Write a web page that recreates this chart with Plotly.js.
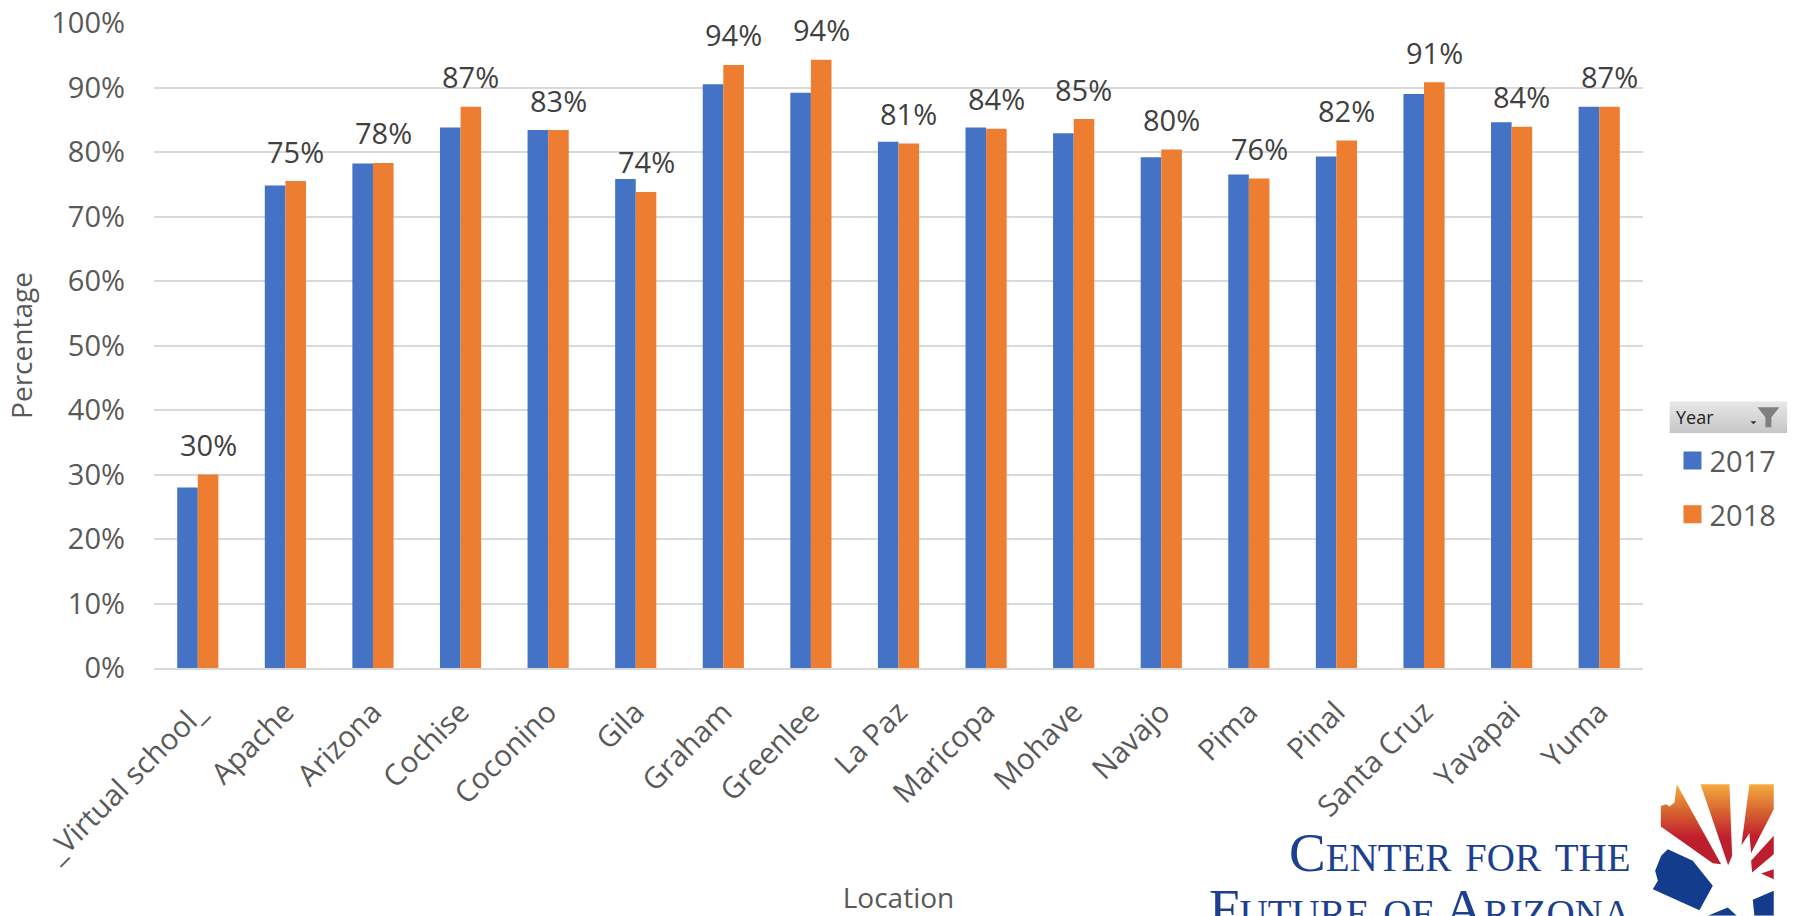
<!DOCTYPE html>
<html>
<head>
<meta charset="utf-8">
<script src="https://cdn.plot.ly/plotly-3.0.1.min.js"></script>
<style>
html,body{margin:0;padding:0;background:#fff;overflow:hidden}
#chart{width:1794px;height:916px}
.legendpoints path{transform:translate(23px,0) scale(1.5)}
.xtitle{translate:0 5px}
</style>
</head>
<body>
<div id="chart"></div>
<script>
const locations = ["_Virtual school_","Apache","Arizona","Cochise","Coconino","Gila","Graham","Greenlee","La Paz","Maricopa","Mohave","Navajo","Pima","Pinal","Santa Cruz","Yavapai","Yuma"];
const values2017 = [28,74.8,78.2,83.8,83.4,75.8,90.5,89.2,81.6,83.8,82.9,79.2,76.5,79.3,89,84.6,87];
const values2018 = [30,75.5,78.3,87,83.4,73.8,93.5,94.3,81.3,83.6,85.1,80.4,75.9,81.8,90.8,83.9,87];
const dataLabels = ["30%","75%","78%","87%","83%","74%","94%","94%","81%","84%","85%","80%","76%","82%","91%","84%","87%"];

const W=1794,H=916,L=153.5,R=1643.5,T=22.5,B=668;
const px=x=>(x-L)/(R-L), py=y=>(B-y)/(B-T);
const FONT='"Open Sans", sans-serif', GREY='#595959';

const logoSvg=`<svg xmlns="http://www.w3.org/2000/svg" viewBox="0 0 390 420" width="390" height="420" preserveAspectRatio="none"><defs><linearGradient id="g" gradientUnits="userSpaceOnUse" x1="0" y1="25" x2="0" y2="200"><stop offset="0" stop-color="#f5ab40"/><stop offset="0.45" stop-color="#d8662f"/><stop offset="0.9" stop-color="#c0202e"/><stop offset="1" stop-color="#bb1e2d"/></linearGradient></defs><g fill="url(#g)"><path d="M82 25L215 265L190 262L34 152L34 90L50 85L60 92L75 80Z"/><path d="M153 25L240 25L248 240L236 268Z"/><path d="M300 25L373 25L373 100L305 232L300 172L276 208Z"/><path d="M373 180L373 235L308 290L305 255Z"/><path d="M373 280L373 310L335 293Z"/></g><g fill="#143c8c"><path d="M55 220L130 255L190 330L150 403L10 340L25 315L17 285L35 240Z"/><path d="M373 345L373 420L315 420L310 372Z"/><path d="M235 395L262 420L175 420Z"/></g></svg>`;
const filterSvg=`<svg xmlns="http://www.w3.org/2000/svg" viewBox="0 0 118 32" width="118" height="32" preserveAspectRatio="none"><defs><linearGradient id="f" x1="0" y1="0" x2="0" y2="1"><stop offset="0" stop-color="#e8e8e8"/><stop offset="1" stop-color="#c6c6c6"/></linearGradient></defs><rect width="118" height="32" fill="url(#f)"/><path d="M88 6H110L102 16V26H96V16Z" fill="#7f7f7f"/><path d="M81 20H87L84 23Z" fill="#333"/></svg>`;
const uri=s=>'data:image/svg+xml;charset=utf-8,'+encodeURIComponent(s);
const box=(x0,y0,x1,y1)=>({xref:'paper',yref:'paper',x:px(x0),y:py(y0),sizex:(x1-x0)/(R-L),sizey:(y1-y0)/(B-T),xanchor:'left',yanchor:'top',sizing:'stretch',layer:'above'});

const labelAnnotations=locations.map((c,i)=>({
  x:c,y:values2018[i],xref:'x',yref:'y',text:dataLabels[i],showarrow:false,
  xanchor:'center',yanchor:'middle',xshift:10.3,yshift:30,
  font:{family:FONT,size:29,color:'#404040'}
}));

const data=[
 {type:'bar',name:'2017',x:locations,y:values2017,marker:{color:'#4472c4'},legendgroup:'a',hoverinfo:'x+y+name'},
 {type:'bar',name:'2018',x:locations,y:values2018,marker:{color:'#ed7d31'},legendgroup:'b',hoverinfo:'x+y+name'}
];
const layout={
 width:W,height:H,paper_bgcolor:'#fff',plot_bgcolor:'#fff',
 margin:{l:L,r:W-R,t:T,b:H-B,pad:0},
 barmode:'group',bargap:0.53,bargroupgap:0,
 font:{family:FONT,color:GREY},
 xaxis:{type:'category',categoryorder:'array',categoryarray:locations,tickangle:-45,
  tickfont:{family:FONT,size:29.5,color:GREY},ticks:'',showgrid:false,showline:true,linecolor:'#d9d9d9',linewidth:2,zeroline:false,
  ticklabelstandoff:13,automargin:false,
  title:{text:'Location',font:{family:FONT,size:28,color:GREY},standoff:60}},
 yaxis:{range:[0,100],tick0:0,dtick:10,ticksuffix:'%',tickfont:{family:FONT,size:29,color:GREY},
  showgrid:true,gridcolor:'#d9d9d9',gridwidth:2,zeroline:false,showline:false,ticks:'',ticklabelstandoff:28,automargin:false,
  title:{text:'Percentage',font:{family:FONT,size:28,color:GREY},standoff:10}},
 showlegend:true,
 legend:{x:px(1670),y:py(435),xanchor:'left',yanchor:'top',bgcolor:'rgba(0,0,0,0)',tracegroupgap:13,traceorder:'grouped',
  font:{family:FONT,size:29,color:GREY},itemclick:false,itemdoubleclick:false},
 images:[
  Object.assign({source:uri(logoSvg)},box(1650,776,1780,916)),
  Object.assign({source:uri(filterSvg)},box(1670,401,1788,433))
 ],
 annotations:labelAnnotations.concat([
  {xref:'paper',yref:'paper',x:px(1675),y:py(417),xanchor:'left',yanchor:'middle',text:'Year',showarrow:false,font:{family:FONT,size:18,color:'#222'}},
  {xref:'paper',yref:'paper',x:px(1633),y:py(885),xanchor:'right',yanchor:'bottom',text:'Center for the',showarrow:false,font:{family:'"Liberation Serif",serif',size:55,color:'#1c3f8f',variant:'small-caps'}},
  {xref:'paper',yref:'paper',x:px(1633),y:py(941),xanchor:'right',yanchor:'bottom',text:'Future of Arizona',showarrow:false,font:{family:'"Liberation Serif",serif',size:55,color:'#1c3f8f',variant:'small-caps'}}
 ])
};
Plotly.newPlot('chart',data,layout,{displayModeBar:false,responsive:false});
</script>
</body>
</html>
